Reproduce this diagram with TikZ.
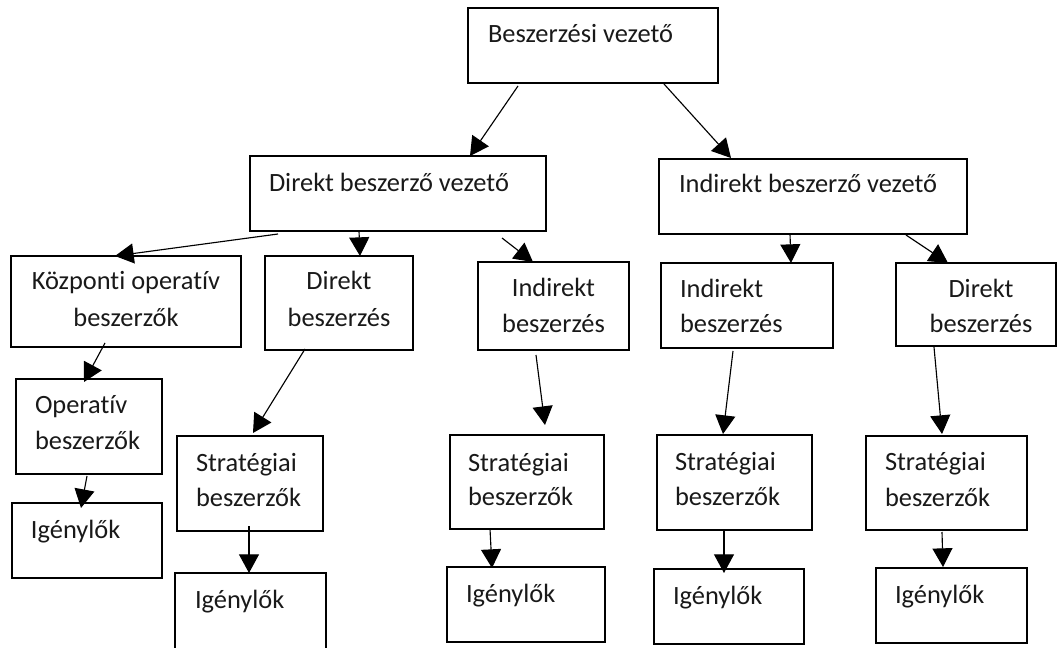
\documentclass[tikz,border=0pt]{standalone}
\usepackage{fontspec}
\setmainfont{Carlito}[Ligatures={NoCommon}]
\usetikzlibrary{arrows.meta,calc}
\begin{document}
\begin{tikzpicture}[x=0.75pt,y=-0.75pt,
  bx/.style args={#1/#2}{draw=black,line width=1pt,inner sep=0pt,outer sep=0pt,
    minimum width=#1*0.75pt,minimum height=#2*0.75pt},
  txt/.style={inner sep=0pt,outer sep=0pt,text=black!90,font=\fontsize{19.8}{24}\selectfont},
  lw/.style={txt,anchor=base west},
  lc/.style={txt,anchor=base},
  arr/.style={draw=black,line width=0.85pt,arrows={-{Triangle[length=14pt,width=15pt]}}}]
\useasboundingbox (0,0) rectangle (1057,648);
% boxes
\node[bx=250/75] (A) at (593,45.5) {};
\node[bx=296/75] (B) at (398,193.5) {};
\node[bx=308/75] (C) at (813,196.5) {};
\node[bx=230/91] (D) at (126,301.5) {};
\node[bx=148/94] (E) at (339,303) {};
\node[bx=151/88] (F) at (553.5,306) {};
\node[bx=172/85] (G) at (747,305.5) {};
\node[bx=160/83] (H) at (976,304.5) {};
\node[bx=146/95] (I) at (89,426.5) {};
\node[bx=150/75] (J) at (87,540.5) {};
\node[bx=146/95] (K) at (250,483.5) {};
\node[bx=151/87] (L) at (250.5,616.5) {};
\node[bx=154/94] (M) at (527,482) {};
\node[bx=158/75] (N) at (526,604.5) {};
\node[bx=155/95] (O) at (734.5,482.5) {};
\node[bx=150/75] (P) at (729,606.5) {};
\node[bx=161/94] (Q) at (946.5,483) {};
\node[bx=151/75] (R) at (951.5,605.5) {};
% texts
\node[lw] (tA) at (488,43) {Beszerzési vezető};
\node[lw] (tB) at (269,192) {Direkt beszerző vezető};
\node[lw] (tC) at (679,193) {Indirekt beszerző vezető};
\node[lc] (tD1) at (126,290) {Központi operatív};
\node[lc] (tD2) at (126,327) {beszerzők};
\node[lc] (tE1) at (339,290) {Direkt};
\node[lc] (tE2) at (339,327) {beszerzés};
\node[lc] (tF1) at (553.5,297) {Indirekt};
\node[lc] (tF2) at (553.5,333) {beszerzés};
\node[lw] (tG1) at (680,298) {Indirekt};
\node[lw] (tG2) at (680,333) {beszerzés};
\node[lc] (tH1) at (981,298) {Direkt};
\node[lc] (tH2) at (981,333) {beszerzés};
\node[lw] (tI1) at (35,414) {Operatív};
\node[lw] (tI2) at (35,450) {beszerzők};
\node[lw] (tJ) at (31,538) {Igénylők};
\node[lw] (tK1) at (196,472) {Stratégiai};
\node[lw] (tK2) at (196,507) {beszerzők};
\node[lw] (tL) at (195,608) {Igénylők};
\node[lw] (tM1) at (468,472) {Stratégiai};
\node[lw] (tM2) at (468,505) {beszerzők};
\node[lw] (tN) at (466,602) {Igénylők};
\node[lw] (tO1) at (675,470) {Stratégiai};
\node[lw] (tO2) at (675,506) {beszerzők};
\node[lw] (tP) at (673,604) {Igénylők};
\node[lw] (tQ1) at (885,470) {Stratégiai};
\node[lw] (tQ2) at (885,507) {beszerzők};
\node[lw] (tR) at (895,603) {Igénylők};
% connectors
\draw[arr] ($(A.south west)+(50,3)$) -- ($(B.north west)+(220,0)$);
\draw[arr] ($(A.south west)+(196,1)$) -- ($(C.north west)+(72,-1)$);
\draw[arr] ($(B.south west)+(28,3)$) -- ($(D.north west)+(104,0)$);
\draw[arr] ($(B.south west)+(109,0)$) -- ($(E.north west)+(95,0)$);
\draw[arr] ($(B.south west)+(252,7)$) -- ($(F.north west)+(55,0)$);
\draw[arr] ($(C.south west)+(131,0)$) -- ($(G.north west)+(130,0)$);
\draw[arr] ($(C.south west)+(247,1)$) -- ($(H.north west)+(52,0)$);
\draw[arr] ($(D.south west)+(94,-4)$) -- ($(I.north west)+(68,3)$);
\draw[arr] ($(I.south west)+(71,2)$) -- ($(J.north west)+(69,5)$);
\draw[arr] ($(E.south west)+(40,-1)$) -- ($(K.north west)+(76,-3)$);
\draw[arr] ($(K.south west)+(72,-5)$) -- ($(L.north west)+(74,0)$);
\draw[arr] ($(F.south west)+(58,5)$) -- ($(M.north west)+(95,-10)$);
\draw[arr] ($(M.south west)+(40,0)$) -- ($(N.north west)+(45,1)$);
\draw[arr] ($(G.south west)+(72,3)$) -- ($(O.north west)+(66,-1)$);
\draw[arr] ($(O.south west)+(67,1)$) -- ($(P.north west)+(70,4)$);
\draw[arr] ($(H.south west)+(38,1)$) -- ($(Q.north west)+(76,-2)$);
\draw[arr] ($(Q.south west)+(76,2)$) -- ($(R.north west)+(67,-1)$);
\end{tikzpicture}
\end{document}
